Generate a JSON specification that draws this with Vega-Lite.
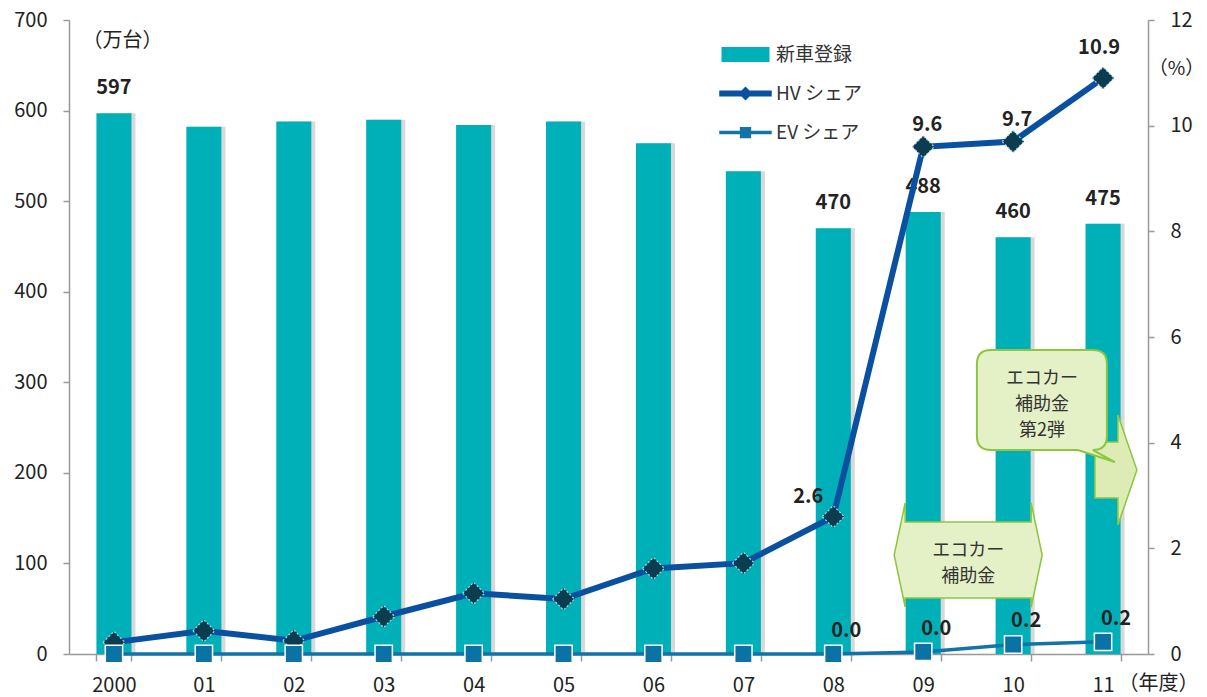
{
  "$schema": "https://vega.github.io/schema/vega-lite/v6.json",
  "width": 1079,
  "height": 634,
  "autosize": {"type": "none"},
  "padding": {"left": 69, "top": 20, "right": 59, "bottom": 43},
  "background": "white",
  "config": {
    "font": "Noto Sans CJK JP",
    "view": {"stroke": null},
    "axis": {
      "labelFont": "Noto Sans CJK JP",
      "labelFontSize": 20,
      "labelColor": "#222222",
      "domainColor": "#999999",
      "domainWidth": 1.5,
      "tickColor": "#999999",
      "tickWidth": 1.5,
      "grid": false,
      "titleFont": "Noto Sans CJK JP",
      "titleFontSize": 20,
      "titleFontWeight": "normal",
      "titleColor": "#222222"
    }
  },
  "datasets": {
    "main": [
      {"year": "2000", "reg": 597, "hv": 0.22, "ev": 0},
      {"year": "01", "reg": 582, "hv": 0.44, "ev": 0},
      {"year": "02", "reg": 588, "hv": 0.25, "ev": 0},
      {"year": "03", "reg": 590, "hv": 0.71, "ev": 0},
      {"year": "04", "reg": 584, "hv": 1.15, "ev": 0},
      {"year": "05", "reg": 588, "hv": 1.04, "ev": 0},
      {"year": "06", "reg": 564, "hv": 1.62, "ev": 0},
      {"year": "07", "reg": 533, "hv": 1.72, "ev": 0},
      {"year": "08", "reg": 470, "hv": 2.6, "ev": 0},
      {"year": "09", "reg": 488, "hv": 9.6, "ev": 0.04},
      {"year": "10", "reg": 460, "hv": 9.7, "ev": 0.18},
      {"year": "11", "reg": 475, "hv": 10.9, "ev": 0.23}
    ],
    "notes": [
      {"kind": "eco1", "nx": 9.5, "ny": 103.8, "label": "エコカー\n補助金"},
      {"kind": "eco2", "nx": 10.32, "ny": 280.4, "label": "エコカー\n補助金\n第2弾"}
    ],
    "legend": [
      {"series": "新車登録"},
      {"series": "HV シェア"},
      {"series": "EV シェア"}
    ]
  },
  "resolve": {"scale": {"x": "independent", "y": "independent"}},
  "layer": [
    {
      "data": {"name": "main"},
      "encoding": {
        "x": {
          "field": "year",
          "type": "ordinal",
          "sort": null,
          "scale": {"paddingInner": 0.61, "paddingOuter": 0.305},
          "axis": {
            "orient": "bottom",
            "tickBand": "extent",
            "tickSize": 7,
            "labelPadding": 14,
            "labelAngle": 0,
            "title": "（年度）",
            "titleX": 1089,
            "titleY": 29,
            "titleAlign": "center",
            "titleBaseline": "middle",
            "titleAngle": 0
          }
        }
      },
      "resolve": {"scale": {"y": "independent"}},
      "layer": [
        {
          "encoding": {
            "y": {
              "field": "reg",
              "type": "quantitative",
              "scale": {"domain": [0, 700], "nice": false},
              "axis": {
                "orient": "left",
                "values": [0, 100, 200, 300, 400, 500, 600, 700],
                "tickSize": 6,
                "labelPadding": 16,
                "title": "（万台）",
                "titleAngle": 0,
                "titleX": 53,
                "titleY": 20,
                "titleAlign": "center",
                "titleBaseline": "middle"
              }
            }
          },
          "layer": [
            {"mark": {"type": "bar", "color": "#b8b8b8", "opacity": 0.55, "xOffset": 4}},
            {"mark": {"type": "bar", "color": "#00b0b9"}},
            {
              "transform": [{"filter": "indexof(['2000','08','09','10','11'], datum.year) >= 0"}],
              "mark": {"type": "text", "fontSize": 20, "fontWeight": "bold", "color": "#222222", "baseline": "middle", "dy": -25},
              "encoding": {"text": {"field": "reg", "type": "quantitative"}}
            }
          ]
        },
        {
          "encoding": {
            "y": {
              "field": "hv",
              "type": "quantitative",
              "scale": {"domain": [0, 12], "nice": false},
              "axis": {
                "orient": "right",
                "values": [0, 2, 4, 6, 8, 10, 12],
                "tickSize": 6,
                "labelPadding": 16,
                "title": "（%）",
                "titleFontSize": 19,
                "titleAngle": 0,
                "titleX": 28,
                "titleY": 48,
                "titleAlign": "center",
                "titleBaseline": "middle"
              }
            }
          },
          "layer": [
            {"mark": {"type": "line", "color": "#0a50a1", "strokeWidth": 6}},
            {
              "mark": {"type": "line", "color": "#1273a9", "strokeWidth": 3.5},
              "encoding": {"y": {"field": "ev", "type": "quantitative", "axis": {"orient": "right", "values": [0, 2, 4, 6, 8, 10, 12], "tickSize": 6, "labelPadding": 16, "title": "（%）", "titleFontSize": 19, "titleAngle": 0, "titleX": 28, "titleY": 48, "titleAlign": "center", "titleBaseline": "middle"}}}
            },
            {"mark": {"type": "point", "shape": "diamond", "filled": true, "size": 484, "fill": "#0b3c50", "stroke": "#a8d8e0", "strokeWidth": 1.2, "strokeDash": [2, 2], "opacity": 1}},
            {
              "mark": {"type": "point", "shape": "square", "filled": true, "size": 300, "fill": "#0b72a5", "stroke": "#ffffff", "strokeWidth": 1.5, "opacity": 1},
              "encoding": {"y": {"field": "ev", "type": "quantitative", "axis": {"orient": "right", "values": [0, 2, 4, 6, 8, 10, 12], "tickSize": 6, "labelPadding": 16, "title": "（%）", "titleFontSize": 19, "titleAngle": 0, "titleX": 28, "titleY": 48, "titleAlign": "center", "titleBaseline": "middle"}}}
            },
            {
              "transform": [{"filter": "datum.year == '08'"}],
              "mark": {"type": "text", "fontSize": 20, "fontWeight": "bold", "color": "#222222", "baseline": "middle", "dx": -25, "dy": -20},
              "encoding": {"text": {"field": "hv", "type": "quantitative", "format": ".1f"}}
            },
            {
              "transform": [{"filter": "datum.year == '09' || datum.year == '10'"}],
              "mark": {"type": "text", "fontSize": 20, "fontWeight": "bold", "color": "#222222", "baseline": "middle", "dx": 4, "dy": -22},
              "encoding": {"text": {"field": "hv", "type": "quantitative", "format": ".1f"}}
            },
            {
              "transform": [{"filter": "datum.year == '11'"}],
              "mark": {"type": "text", "fontSize": 20, "fontWeight": "bold", "color": "#222222", "baseline": "middle", "dx": -4, "dy": -30},
              "encoding": {"text": {"field": "hv", "type": "quantitative", "format": ".1f"}}
            },
            {
              "transform": [{"filter": "indexof(['08','09','10','11'], datum.year) >= 0"}],
              "mark": {"type": "text", "fontSize": 20, "fontWeight": "bold", "color": "#222222", "baseline": "middle", "dx": 13, "dy": -23},
              "encoding": {
                "y": {"field": "ev", "type": "quantitative", "axis": {"orient": "right", "values": [0, 2, 4, 6, 8, 10, 12], "tickSize": 6, "labelPadding": 16, "title": "（%）", "titleFontSize": 19, "titleAngle": 0, "titleX": 28, "titleY": 48, "titleAlign": "center", "titleBaseline": "middle"}},
                "text": {"field": "ev", "type": "quantitative", "format": ".1f"}
              }
            }
          ]
        }
      ]
    },
    {
      "data": {"name": "notes"},
      "encoding": {
        "x": {"field": "nx", "type": "quantitative", "scale": {"domain": [-0.5, 11.5], "nice": false, "zero": false}, "axis": null},
        "y": {"field": "ny", "type": "quantitative", "scale": {"domain": [0, 700], "nice": false, "zero": false}, "axis": null}
      },
      "layer": [
        {
          "transform": [{"filter": "datum.kind == 'eco2'"}],
          "mark": {"type": "point", "shape": "M53,42H76V15L95,70L76,125V98H53Z", "size": 4, "filled": true, "fill": "#dcecb4", "stroke": "#8cc63f", "strokeWidth": 1.5, "opacity": 1}
        },
        {
          "transform": [{"filter": "datum.kind == 'eco2'"}],
          "mark": {"type": "point", "shape": "M-51,-50H51Q65,-50 65,-36V36Q65,50 51,50L73,62L36,50H-51Q-65,50 -65,36V-36Q-65,-50 -51,-50Z", "size": 4, "filled": true, "fill": "#e4f0c6", "stroke": "#8cc63f", "strokeWidth": 2, "opacity": 1}
        },
        {
          "transform": [{"filter": "datum.kind == 'eco1'"}],
          "mark": {"type": "point", "shape": "M-63,-38H63V-57L74,-5L63,47V38H-63V47L-74,-5L-63,-57Z", "size": 4, "filled": true, "fill": "#e4f0c6", "stroke": "#8cc63f", "strokeWidth": 1.5, "opacity": 1}
        },
        {
          "transform": [{"filter": "datum.kind == 'eco1'"}],
          "mark": {"type": "text", "fontSize": 18, "color": "#333333", "lineBreak": "\n", "lineHeight": 26, "align": "center", "baseline": "middle", "dy": -9},
          "encoding": {"text": {"field": "label", "type": "nominal"}}
        },
        {
          "transform": [{"filter": "datum.kind == 'eco2'"}],
          "mark": {"type": "text", "fontSize": 18, "color": "#333333", "lineBreak": "\n", "lineHeight": 26, "align": "center", "baseline": "middle", "dy": -21},
          "encoding": {"text": {"field": "label", "type": "nominal"}}
        }
      ]
    },
    {
      "data": {"name": "legend"},
      "mark": {"type": "point", "filled": true, "opacity": 0},
      "encoding": {
        "color": {
          "field": "series",
          "type": "nominal",
          "scale": {"domain": ["新車登録", "HV シェア", "EV シェア"], "range": ["#00b0b9", "#0a50a1", "#1273a9"]},
          "legend": {"title": null, "orient": "none", "legendX": 664, "legendY": 22, "symbolSize": 625, "labelFontSize": 19, "labelFont": "Noto Sans CJK JP", "labelColor": "#333333", "rowPadding": 16, "labelOffset": 18, "symbolOpacity": 1, "symbolStrokeWidth": 0}
        },
        "shape": {
          "field": "series",
          "type": "nominal",
          "scale": {"domain": ["新車登録", "HV シェア", "EV シェア"], "range": ["M-1.92,-0.6H1.92V0.6H-1.92Z", "M-2.1,-0.24H-0.32L0,-0.56L0.32,-0.24H2.1V0.24H0.32L0,0.56L-0.32,0.24H-2.1Z", "M-2.1,-0.14H-0.45V-0.45H0.45V-0.14H2.1V0.14H0.45V0.45H-0.45V0.14H-2.1Z"]},
          "legend": {"title": null, "orient": "none", "legendX": 664, "legendY": 22, "symbolSize": 625, "labelFontSize": 19, "labelFont": "Noto Sans CJK JP", "labelColor": "#333333", "rowPadding": 16, "labelOffset": 18, "symbolOpacity": 1, "symbolStrokeWidth": 0}
        }
      }
    }
  ]
}
